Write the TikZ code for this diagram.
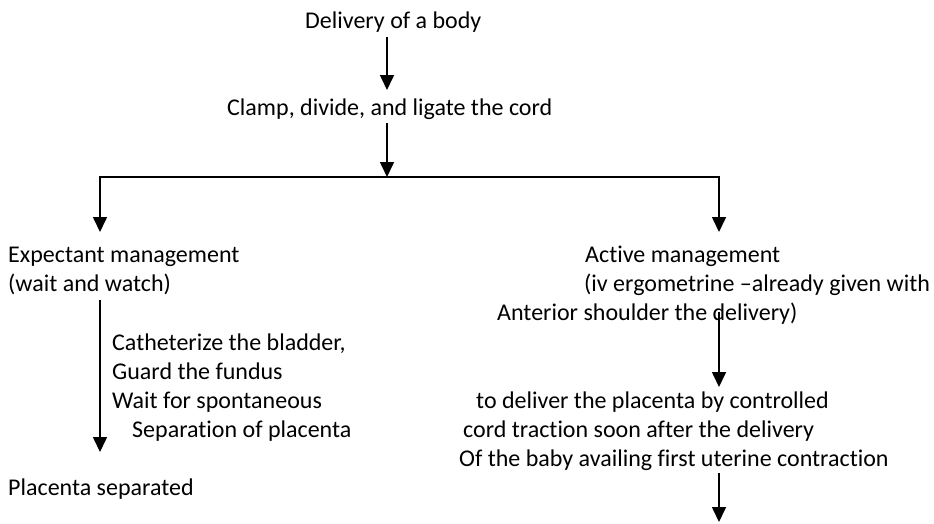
\documentclass[tikz,border=0pt]{standalone}
\usepackage{fontspec}
\setmainfont{Carlito}[Ligatures = CommonOff]
\usetikzlibrary{arrows.meta}
\tikzset{arr/.style = {line width = 1.6pt, -{Triangle[length = 15pt, width = 14pt]}}}
\tikzset{txt/.style = {anchor = base west, inner sep = 0, font = \fontsize{24}{29}\selectfont}}

\begin{document}
\begin{tikzpicture}[x = 1pt, y = -1pt]
      \useasboundingbox (0, 0) rectangle (934, 523);

      % top of the chart
      \node [txt] (deliv) at (305, 28) {Delivery of a body};
      \node [txt] (clamp) at (227, 115.5) {Clamp, divide, and ligate the cord};

      % left branch
      \node [txt] (expect) at (8, 262) {Expectant management};
      \node [txt] (watch) at (8, 291) {(wait and watch)};
      \node [txt] (cath) at (112, 350.5) {Catheterize the bladder,};
      \node [txt] (guard) at (112, 379.5) {Guard the fundus};
      \node [txt] (wait) at (112, 408.5) {Wait for spontaneous};
      \node [txt] (separ) at (132, 437.5) {Separation of placenta};
      \node [txt] (placsep) at (8, 495) {Placenta separated};

      % right branch
      \node [txt] (active) at (585, 262) {Active management};
      \node [txt] (ergo) at (584, 291) {(iv ergometrine –already given with};
      \node [txt] (anter) at (497, 320) {Anterior shoulder the delivery)};
      \node [txt] (cct) at (476, 408) {to deliver the placenta by controlled};
      \node [txt] (cord) at (463, 437) {cord traction soon after the delivery};
      \node [txt] (baby) at (459, 466) {Of the baby availing first uterine contraction};

      % arrow ends
      \coordinate (d1) at (387, 37);
      \coordinate (d2) at (387, 90);
      \coordinate (c1) at (387, 123);
      \coordinate (split) at (387, 177);
      \coordinate (lend) at (100, 232);
      \coordinate (rend) at (719, 232);
      \coordinate (l1) at (100, 300);
      \coordinate (l2) at (100, 452);
      \coordinate (r1) at (719, 312);
      \coordinate (r2) at (719, 387);
      \coordinate (r3) at (719, 473);
      \coordinate (r4) at (719, 522);

      \draw [arr] (d1) -- (d2);
      \draw [arr] (c1) -- (split);
      \draw [arr] (split) -| (lend);
      \draw [arr] (split) -| (rend);
      \draw [arr] (l1) -- (l2);
      \draw [arr] (r1) -- (r2);
      \draw [arr] (r3) -- (r4);
    \end{tikzpicture}
\end{document}
